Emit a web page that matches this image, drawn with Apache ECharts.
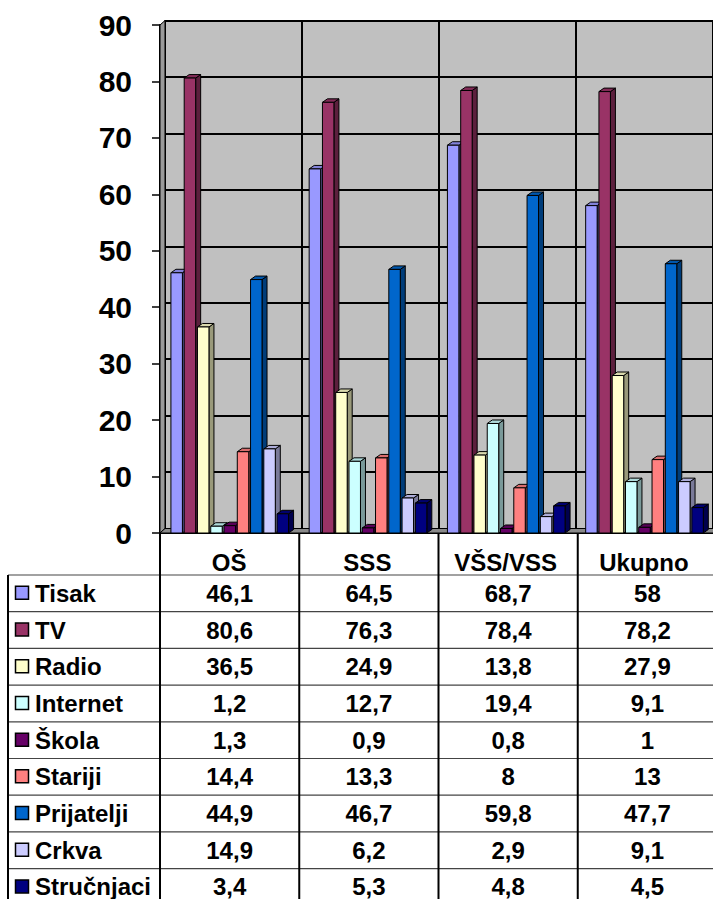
<!DOCTYPE html>
<html>
<head>
<meta charset="utf-8">
<script src="https://cdn.jsdelivr.net/npm/echarts@6/dist/echarts.min.js"></script>
<style>
  html, body { margin: 0; padding: 0; background: #fff; }
  #chart { width: 713px; height: 899px; }
</style>
</head>
<body>
<div id="chart"></div>
<script>
// data
var categories = ['OŠ', 'SSS', 'VŠS/VSS', 'Ukupno']
var seriesNames = ['Tisak', 'TV', 'Radio', 'Internet', 'Škola', 'Stariji', 'Prijatelji', 'Crkva', 'Stručnjaci']
var tisak = [46.1, 64.5, 68.7, 58]
var tv = [80.6, 76.3, 78.4, 78.2]
var radio = [36.5, 24.9, 13.8, 27.9]
var internet = [1.2, 12.7, 19.4, 9.1]
var skola = [1.3, 0.9, 0.8, 1]
var stariji = [14.4, 13.3, 8, 13]
var prijatelji = [44.9, 46.7, 59.8, 47.7]
var crkva = [14.9, 6.2, 2.9, 9.1]
var strucnjaci = [3.4, 5.3, 4.8, 4.5]
var yTicks = [0, 10, 20, 30, 40, 50, 60, 70, 80, 90]

var allValues = [tisak, tv, radio, internet, skola, stariji, prijatelji, crkva, strucnjaci]
var colors = ['#9999FF', '#993366', '#FFFFCC', '#CCFFFF', '#660066', '#FF8080', '#0066CC', '#CCCCFF', '#000080']

var FONT = "'Liberation Sans', Arial, sans-serif"
var W = 713, H = 899
var plotLeft = 160, plotTop = 25, plotBottom = 533
var plotRight = 717
var depthX = 5, depthY = 4.5
var barDX = 5, barDY = 3.5
var rowTop = 575, rowH = 36.7

var chart = echarts.init(document.getElementById('chart'), null, { renderer: 'svg' })

function fmt (v) {
    return String(v).replace('.', ',')
}

// multiply rgb channels, f < 1 darkens
function shade (hex, f) {
    var n = parseInt(hex.slice(1), 16)
    var r = Math.round(((n >> 16) & 255) * f)
    var g = Math.round(((n >> 8) & 255) * f)
    var b = Math.round((n & 255) * f)
    return 'rgb(' + r + ',' + g + ',' + b + ')'
}

function renderBar (params, api) {
    var s = params.seriesIndex
    var cat = api.value(0)
    var v = api.value(1)
    var base = api.coord([cat, 0])
    var top = api.coord([cat, v])
    var bw = api.size([1, 0])[0]
    var x0 = base[0] - bw * 0.421 + s * bw * 0.096
    var w = bw * 0.083
    var c = colors[s]
    var st = { stroke: '#000', lineWidth: 1 }
    return {
        type: 'group',
        children: [
            {
                type: 'polygon',
                shape: { points: [[x0 + w, top[1]], [x0 + w + barDX, top[1] - barDY], [x0 + w + barDX, base[1] - barDY], [x0 + w, base[1]]] },
                style: Object.assign({ fill: shade(c, 0.6) }, st)
            },
            {
                type: 'polygon',
                shape: { points: [[x0, top[1]], [x0 + barDX, top[1] - barDY], [x0 + w + barDX, top[1] - barDY], [x0 + w, top[1]]] },
                style: Object.assign({ fill: shade(c, 0.85) }, st)
            },
            {
                type: 'rect',
                shape: { x: x0, y: top[1], width: w, height: base[1] - top[1] },
                style: Object.assign({ fill: c }, st)
            }
        ]
    }
}

var series = seriesNames.map(function (name, s) {
    return {
        name: name,
        type: 'custom',
        xAxisIndex: 0,
        yAxisIndex: 0,
        renderItem: renderBar,
        z: 5,
        data: allValues[s].map(function (v, i) { return [i, v] })
    }
})

// table below the plot (text + lines built from the arrays)
var graphics = []
// left wall and floor of the 3D plot
graphics.push({
    type: 'polygon', z: 1,
    shape: { points: [[plotLeft, plotTop], [plotLeft + depthX, plotTop - depthY], [plotLeft + depthX, plotBottom - depthY], [plotLeft, plotBottom]] },
    style: { fill: '#9a9a9a', stroke: '#000', lineWidth: 1 }
})
graphics.push({
    type: 'polygon', z: 1,
    shape: { points: [[plotLeft, plotBottom], [plotLeft + depthX, plotBottom - depthY], [plotRight + depthX, plotBottom - depthY], [plotRight, plotBottom]] },
    style: { fill: '#8a8a8a', stroke: '#000', lineWidth: 1 }
})

var colW = (plotRight - plotLeft) / categories.length
for (var k = 0; k <= seriesNames.length; k++) {
    var yy = rowTop + rowH * k
    graphics.push({ type: 'line', z: 10, shape: { x1: 8, y1: yy, x2: plotRight, y2: yy }, style: { stroke: '#444', lineWidth: 1.2 } })
}
graphics.push({ type: 'line', z: 10, shape: { x1: 8, y1: rowTop, x2: 8, y2: H }, style: { stroke: '#000', lineWidth: 2 } })
for (var c = 0; c < categories.length; c++) {
    var xx = plotLeft + colW * c
    graphics.push({ type: 'line', z: 10, shape: { x1: xx, y1: plotBottom, x2: xx, y2: H }, style: { stroke: '#000', lineWidth: 2 } })
}
seriesNames.forEach(function (name, s) {
    var cy = rowTop + rowH * s + rowH / 2
    graphics.push({ type: 'rect', z: 10, shape: { x: 15.5, y: cy - 7, width: 13, height: 13 }, style: { fill: colors[s], stroke: '#000', lineWidth: 1.5 } })
    graphics.push({ type: 'text', z: 10, x: 35, y: cy, style: { text: name, font: 'bold 24px ' + FONT, fill: '#000', textVerticalAlign: 'middle', verticalAlign: 'middle' } })
    allValues[s].forEach(function (v, i) {
        graphics.push({
            type: 'text', z: 10, x: plotLeft + colW * (i + 0.5), y: cy,
            style: { text: fmt(v), font: 'bold 24px ' + FONT, fill: '#000', align: 'center', textAlign: 'center', verticalAlign: 'middle', textVerticalAlign: 'middle' }
        })
    })
})

var option = {
    backgroundColor: '#fff',
    animation: false,
    grid: [
        {
            // front plane
            left: plotLeft, top: plotTop, right: W - plotRight, bottom: H - plotBottom
        },
        {
            // back wall
            show: true,
            left: plotLeft + depthX, top: plotTop - depthY, right: W - plotRight - depthX, bottom: H - plotBottom + depthY,
            backgroundColor: '#C0C0C0',
            borderColor: '#555',
            borderWidth: 1
        }
    ],
    xAxis: [
        {
            type: 'category',
            gridIndex: 0,
            data: categories,
            axisLine: { show: true, lineStyle: { color: '#000', width: 2 } },
            axisTick: { show: false },
            axisLabel: { margin: 17, color: '#000', fontSize: 24, fontWeight: 'bold', fontFamily: FONT },
            splitLine: { show: false }
        },
        {
            type: 'category',
            gridIndex: 1,
            data: categories,
            axisLine: { show: false },
            axisTick: { show: false },
            axisLabel: { show: false },
            splitLine: { show: true, interval: 0, lineStyle: { color: '#000', width: 2 } }
        }
    ],
    yAxis: [
        {
            type: 'value',
            gridIndex: 0,
            min: yTicks[0],
            max: yTicks[yTicks.length - 1],
            interval: 10,
            axisLine: { show: true, lineStyle: { color: '#000', width: 2 } },
            axisTick: { show: true, length: 8, lineStyle: { color: '#000', width: 1.5 } },
            axisLabel: { margin: 28, color: '#000', fontSize: 30, fontWeight: 'bold', fontFamily: FONT },
            splitLine: { show: false }
        },
        {
            type: 'value',
            gridIndex: 1,
            min: yTicks[0],
            max: yTicks[yTicks.length - 1],
            interval: 10,
            axisLine: { show: false },
            axisTick: { show: false },
            axisLabel: { show: false },
            splitLine: { show: true, lineStyle: { color: '#000', width: 2 } }
        }
    ],
    graphic: graphics,
    series: series
}

chart.setOption(option)
</script>
</body>
</html>
